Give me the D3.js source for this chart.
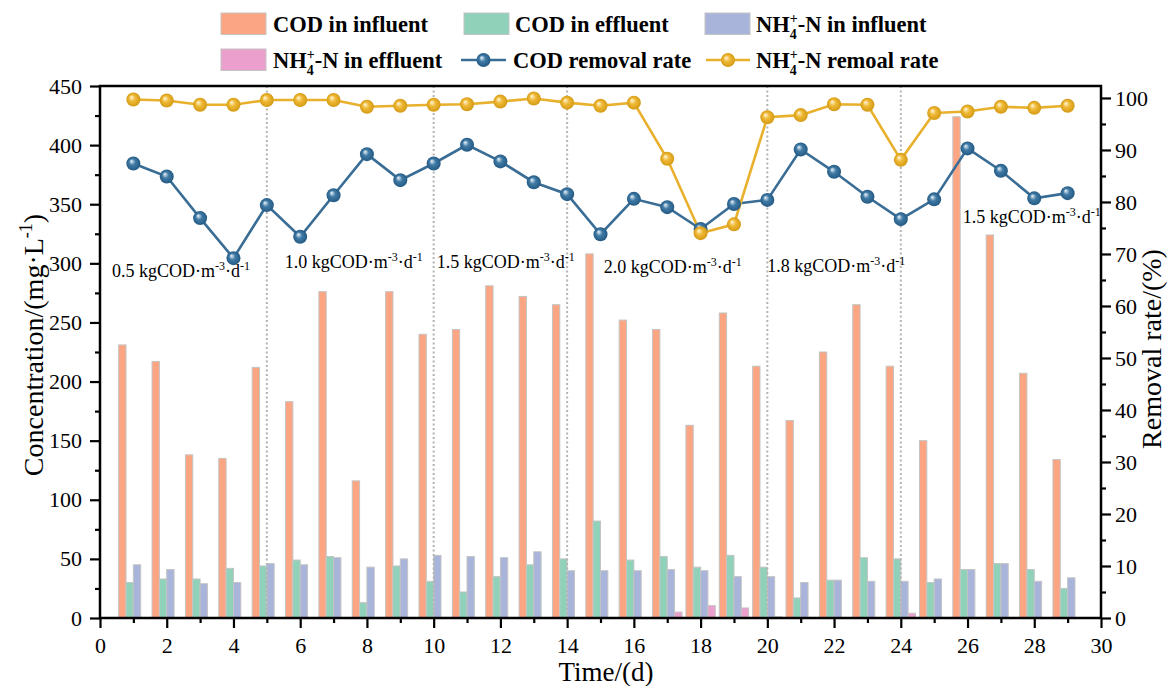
<!DOCTYPE html>
<html><head><meta charset="utf-8">
<script src="https://cdn.jsdelivr.net/npm/d3@7"></script>
<style>
body{margin:0;background:#fff}
svg{display:block}
text{font-family:"Liberation Serif","Times New Roman",serif;fill:#000}
</style>
</head><body><svg id="c" width="1176" height="686"></svg>
<script>
const days = d3.range(1, 30);
const codInfluent = [231,217,138,135,212,183,276,116,276,240,244,281,272,265,308,252,244,163,258,213,167,225,265,213,150,424,324,207,134];
const codEffluent = [30,33,33,42,44,49,52,13,44,31,22,35,45,50,82,49,52,43,53,43,17,32,51,50,30,41,46,41,25];
const nhInfluent  = [45,41,29,30,46,45,51,43,50,53,52,51,56,40,40,40,41,40,35,35,30,32,31,31,33,41,46,31,34];
const nhEffluent  = [0,0,0,0,0,0,0,0,0,0.5,0.5,0,0,0,0,0,5,10.4,8.5,1,0.5,0,0,4,0.5,0.5,0.5,0,0];
const codRemoval  = [87.4,84.9,76.9,69.2,79.4,73.3,81.3,89.2,84.2,87.4,91.0,87.8,83.8,81.5,73.8,80.6,79.0,74.8,79.6,80.4,90.1,85.8,81.0,76.7,80.5,90.3,86.0,80.7,81.7];
const nhRemoval   = [99.7,99.5,98.7,98.7,99.6,99.6,99.6,98.3,98.5,98.7,98.8,99.3,99.9,99.1,98.5,99.1,88.3,74.0,75.7,96.3,96.7,98.8,98.7,88.1,97.1,97.4,98.3,98.1,98.5];
const phaseBoundaries = [5, 10, 14, 20, 24];
const loadLabels = ["0.5", "1.0", "1.5", "2.0", "1.8", "1.5"];
const loadLabelDay = [0.36, 5.54, 10.09, 15.1, 20.0, 25.86];
const loadLabelConc = [288.5, 295.8, 295.8, 291.6, 293, 334];
const xTicks = d3.range(0, 31, 2);
const leftTicks = d3.range(0, 451, 50);
const rightTicks = d3.range(0, 101, 10);

const barSeries = [
  {name: "COD in influent", values: codInfluent, color: "#fca583", nh: false},
  {name: "COD in effluent", values: codEffluent, color: "#8fd2b9", nh: false},
  {name: "-N in influent", values: nhInfluent, color: "#a8b4d9", nh: true},
  {name: "-N in effluent", values: nhEffluent, color: "#ea9fcc", nh: true}
];
const lineSeries = [
  {name: "COD removal rate", values: codRemoval, color: "#3a6d95", grad: "gBlue", nh: false},
  {name: "-N remoal rate", values: nhRemoval, color: "#e8b02c", grad: "gYellow", nh: true}
];

const svg = d3.select("#c");
const L = 100, R = 1101, T = 86, B = 618;
const x = d3.scaleLinear().domain([0, 30]).range([L, R]);
const yL = d3.scaleLinear().domain([0, 450]).range([B, T]);
const yR = d3.scaleLinear().domain([0, 102.3]).range([B, T]);

const defs = svg.append("defs");
function grad(id, hi, mid, edge) {
  const g = defs.append("radialGradient").attr("id", id).attr("cx", "50%").attr("cy", "50%").attr("r", "50%").attr("fx", "35%").attr("fy", "32%");
  g.append("stop").attr("offset", "0%").attr("stop-color", hi);
  g.append("stop").attr("offset", "45%").attr("stop-color", mid);
  g.append("stop").attr("offset", "100%").attr("stop-color", edge);
}
grad("gBlue", "#f2f7fb", "#3f7aa5", "#245a84");
grad("gYellow", "#fff8e0", "#efb936", "#d49a14");

// bars
const bw = x(0.22) - x(0);
barSeries.forEach((s, i) => {
  svg.append("g").selectAll("rect").data(days).join("rect")
    .attr("x", (d) => x(d) + (i - 2) * bw)
    .attr("y", (d, k) => yL(s.values[k]))
    .attr("width", bw)
    .attr("height", (d, k) => B - yL(s.values[k]))
    .attr("fill", s.color)
    .attr("stroke", "#c4c4c4").attr("stroke-width", 1);
});

// phase dotted lines
svg.append("g").selectAll("line").data(phaseBoundaries).join("line")
  .attr("x1", d => x(d)).attr("x2", d => x(d))
  .attr("y1", T).attr("y2", B)
  .attr("stroke", "#b3b3b3").attr("stroke-width", 2).attr("stroke-dasharray", "2,2.5");

// load annotations
loadLabels.forEach((lab, i) => {
  const t = svg.append("text").attr("x", x(loadLabelDay[i])).attr("y", yL(loadLabelConc[i])).attr("font-size", 18);
  t.append("tspan").text(lab + " kgCOD·m");
  t.append("tspan").attr("font-size", 12).attr("dy", -7).text("-3");
  t.append("tspan").attr("dy", 7).text("·d");
  t.append("tspan").attr("font-size", 12).attr("dy", -7).text("-1");
});

// lines
lineSeries.forEach(s => {
  const line = d3.line().x((d) => x(d)).y((d, k) => yR(s.values[k]));
  svg.append("path").datum(days).attr("d", line).attr("fill", "none").attr("stroke", s.color).attr("stroke-width", 2.6);
});
lineSeries.forEach(s => {
  svg.append("g").selectAll("circle").data(days).join("circle")
    .attr("cx", d => x(d)).attr("cy", (d, k) => yR(s.values[k])).attr("r", 7)
    .attr("fill", `url(#${s.grad})`);
});

// axes
const fs = 22;
function styleAxis(g) {
  g.attr("font-family", null);
  g.select(".domain").remove();
  g.selectAll(".tick line").attr("stroke", "#000").attr("stroke-width", 2.2);
  g.selectAll(".tick text").attr("font-size", fs).attr("fill", "#000");
}
const gx = svg.append("g").attr("transform", `translate(0,${B})`)
  .call(d3.axisBottom(x).tickValues(xTicks).tickSize(10).tickPadding(9).tickFormat(d3.format("d")));
styleAxis(gx);
const gxm = svg.append("g").attr("transform", `translate(0,${B})`)
  .call(d3.axisBottom(x).tickValues(d3.range(1, 30, 2)).tickSize(5).tickFormat(""));
styleAxis(gxm);
const gl = svg.append("g").attr("transform", `translate(${L},0)`)
  .call(d3.axisLeft(yL).tickValues(leftTicks).tickSize(10).tickPadding(8));
styleAxis(gl);
const glm = svg.append("g").attr("transform", `translate(${L},0)`)
  .call(d3.axisLeft(yL).tickValues(d3.range(25, 450, 50)).tickSize(5).tickFormat(""));
styleAxis(glm);
const gr = svg.append("g").attr("transform", `translate(${R},0)`)
  .call(d3.axisRight(yR).tickValues(rightTicks).tickSize(10).tickPadding(4));
styleAxis(gr);
const grm = svg.append("g").attr("transform", `translate(${R},0)`)
  .call(d3.axisRight(yR).tickValues(d3.range(5, 100, 10)).tickSize(5).tickFormat(""));
styleAxis(grm);

svg.append("rect").attr("x", L).attr("y", T).attr("width", R - L).attr("height", B - T)
  .attr("fill", "none").attr("stroke", "#000").attr("stroke-width", 2.5);

// axis titles
const tl = svg.append("text").attr("transform", `translate(43,345) rotate(-90)`).attr("text-anchor", "middle").attr("font-size", 28);
tl.append("tspan").text("Concentration/(mg·L");
tl.append("tspan").attr("font-size", 18).attr("dy", -11).text("-1");
tl.append("tspan").attr("dy", 11).text(")");
svg.append("text").attr("x", 606).attr("y", 681).attr("text-anchor", "middle").attr("font-size", 27).text("Time/(d)");
svg.append("text").attr("transform", `translate(1161,349) rotate(-90)`).attr("text-anchor", "middle").attr("font-size", 28).text("Removal rate/(%)");

// legend
const lfs = 22.5;
function legendText(px, py, s) {
  const t = svg.append("text").attr("x", px).attr("y", py).attr("font-size", lfs).attr("font-weight", "bold");
  if (s.nh) {
    t.append("tspan").text("NH");
    t.append("tspan").attr("font-size", lfs * 0.62).attr("dy", -lfs * 0.4).text("+");
    t.append("tspan").attr("font-size", lfs * 0.62).attr("dx", -lfs * 0.62 * 0.57).attr("dy", lfs * 0.72).text("4");
    t.append("tspan").attr("dx", lfs * 0.62 * 0.07).attr("dy", -lfs * 0.32).text(s.name);
  } else {
    t.text(s.name);
  }
}
const legendBarPos = [[221, 13, 273, 32], [464, 13, 515, 32], [705, 13, 756, 32], [221, 49, 273, 68]];
barSeries.forEach((s, i) => {
  const p = legendBarPos[i];
  svg.append("rect").attr("x", p[0]).attr("y", p[1]).attr("width", 45).attr("height", 21.5)
    .attr("fill", s.color).attr("stroke", "#c4c4c4").attr("stroke-width", 1);
  legendText(p[2], p[3], s);
});
const legendLinePos = [[461, 506, 60, 513, 68], [706, 750, 60, 756, 68]];
lineSeries.forEach((s, i) => {
  const p = legendLinePos[i];
  svg.append("line").attr("x1", p[0]).attr("x2", p[1]).attr("y1", p[2]).attr("y2", p[2]).attr("stroke", s.color).attr("stroke-width", 2.6);
  svg.append("circle").attr("cx", (p[0] + p[1]) / 2).attr("cy", p[2]).attr("r", 7).attr("fill", `url(#${s.grad})`);
  legendText(p[3], p[4], s);
});
</script>
</body></html>
